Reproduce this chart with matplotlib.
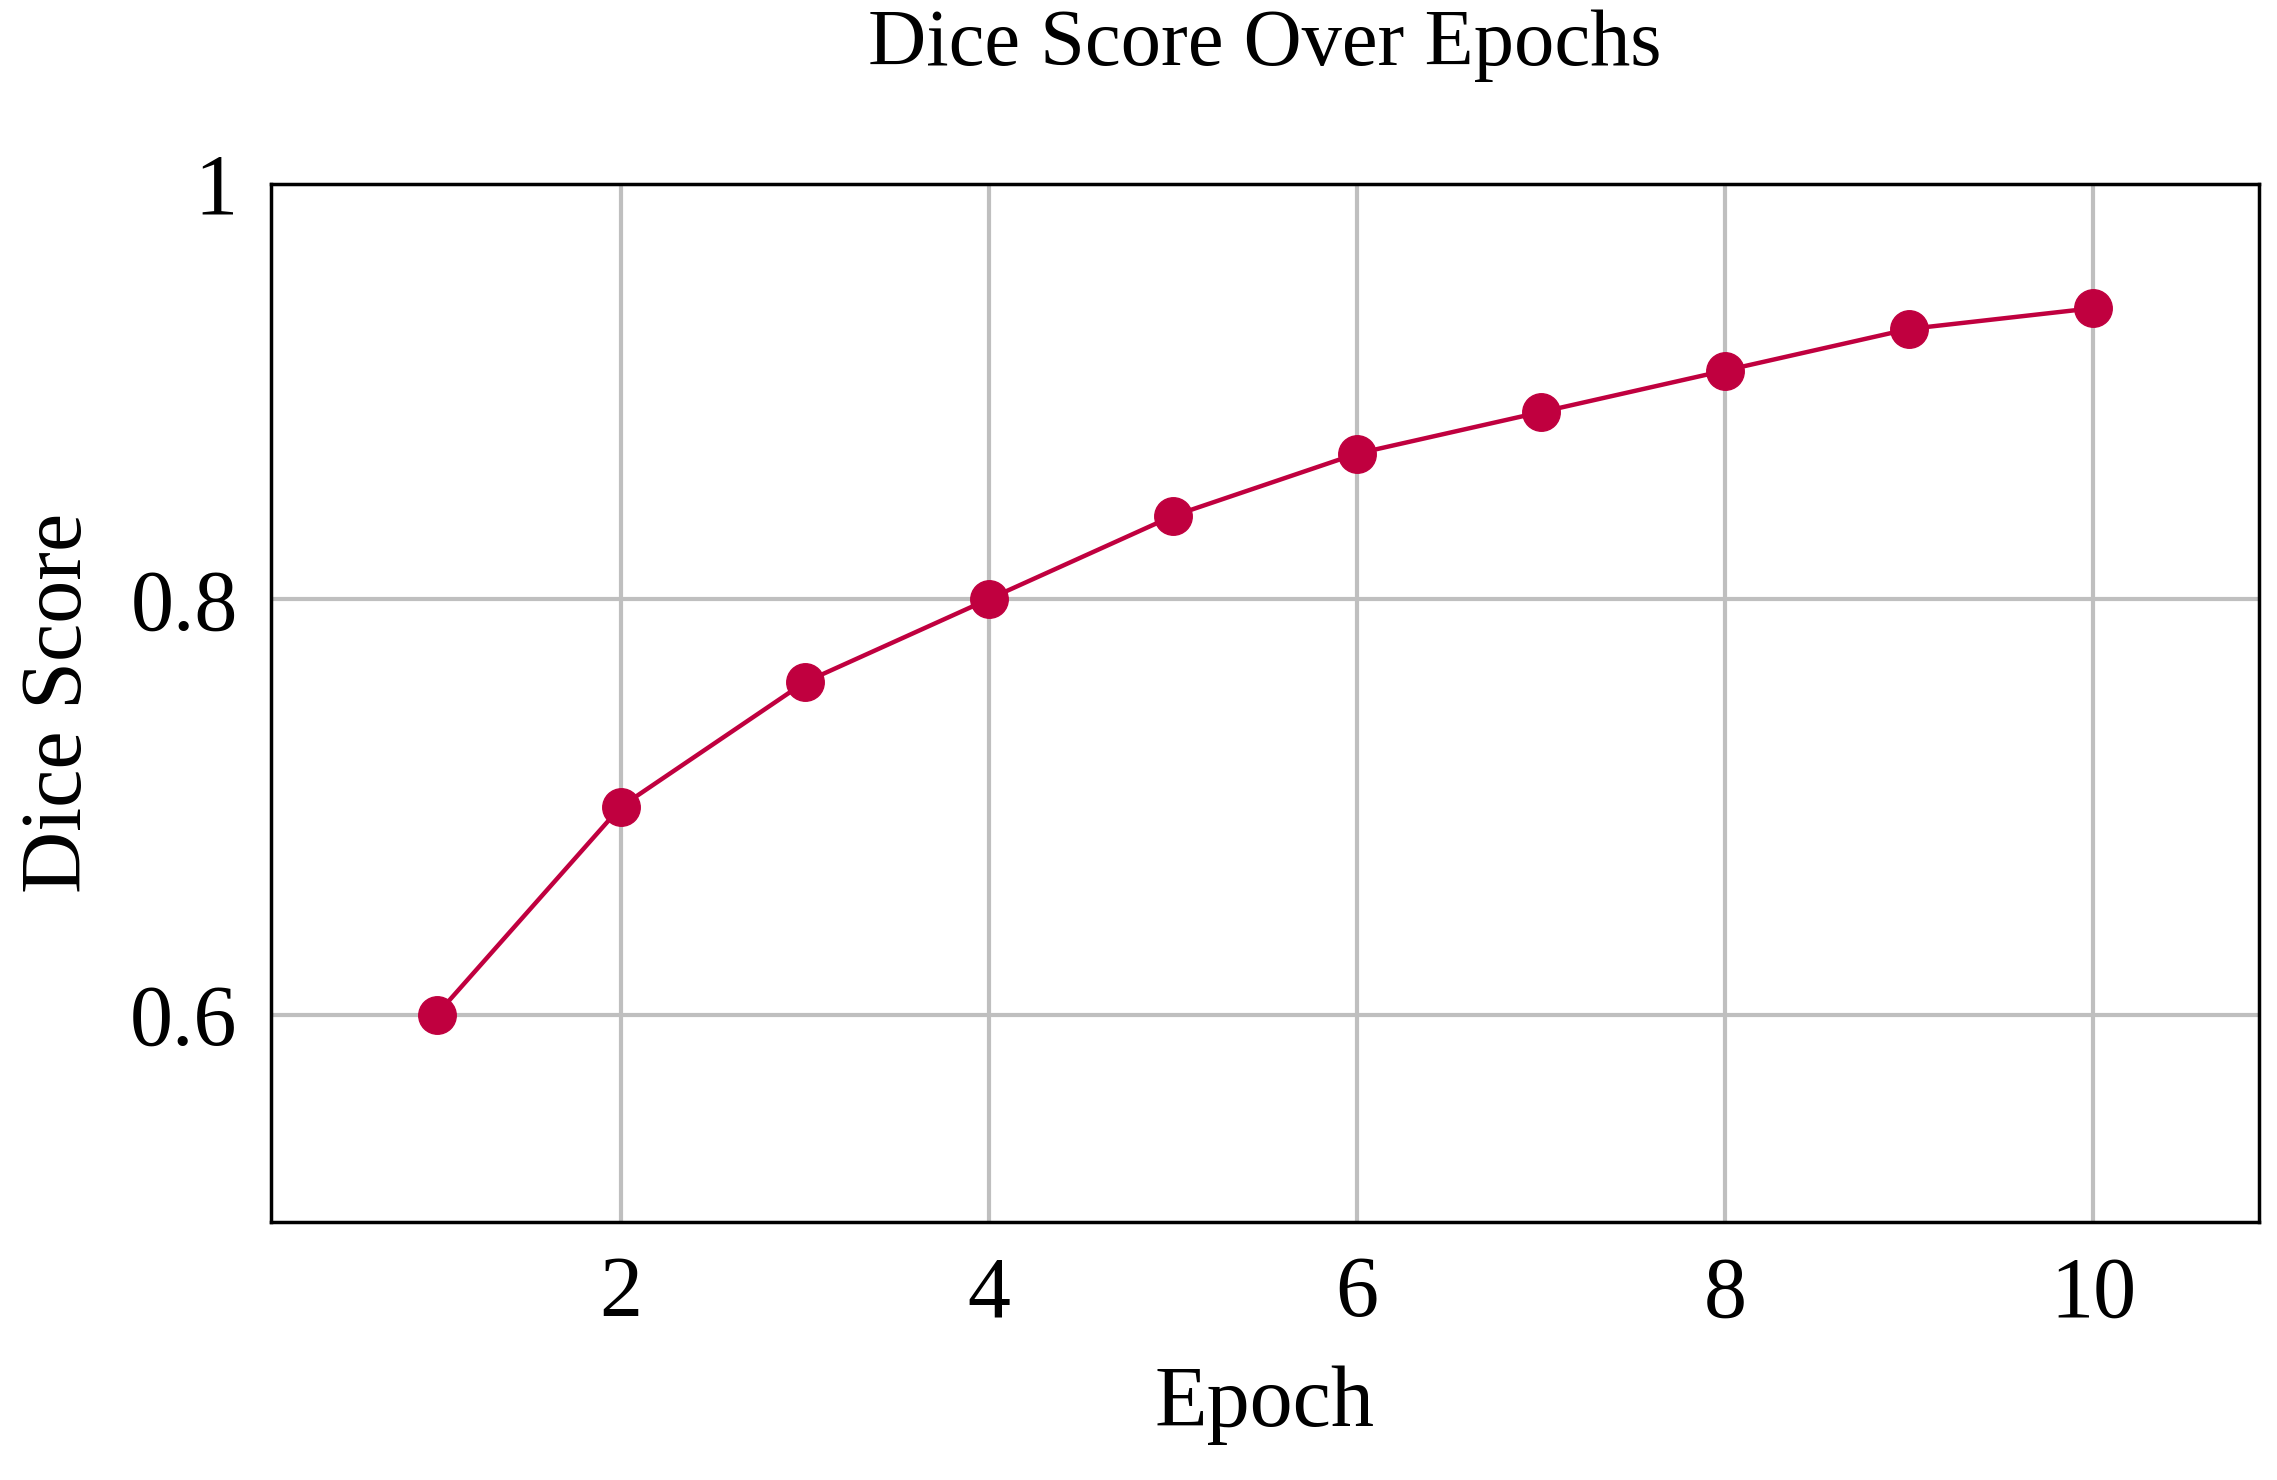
import matplotlib
matplotlib.use("Agg")
from matplotlib import pyplot as plt

epochs = [1, 2, 3, 4, 5, 6, 7, 8, 9, 10]
dice_scores = [0.60, 0.70, 0.76, 0.80, 0.84, 0.87, 0.89, 0.91, 0.93, 0.94]
x_ticks = [2, 4, 6, 8, 10]
y_ticks = [0.6, 0.8, 1.0]
y_tick_labels = ["0.6", "0.8", "1"]

plt.rcParams['font.family'] = ['Liberation Serif', 'DejaVu Serif']

fig = plt.figure(figsize=(22.77, 14.8), dpi=100)
ax = fig.add_axes([0.119, 0.174, 0.873, 0.702])

ax.plot(epochs, dice_scores, color='#c0003f', linewidth=3.2, marker='o', markersize=27)

ax.set_xlim(0.1, 10.9)
ax.set_ylim(0.5, 1.0)
ax.set_xticks(x_ticks)
ax.set_yticks(y_ticks)
ax.set_yticklabels(y_tick_labels)
ax.grid(True, color='#bfbfbf', linewidth=3)
ax.set_axisbelow(True)
for s in ax.spines.values():
    s.set_linewidth(2.5)
ax.tick_params(labelsize=62, length=0, pad=24)

ax.set_xlabel("Epoch", fontsize=62, labelpad=22)
ax.set_ylabel("Dice Score", fontsize=62, labelpad=22)
ax.set_title("Dice Score Over Epochs", fontsize=58, pad=85)

fig.savefig("out.png")
